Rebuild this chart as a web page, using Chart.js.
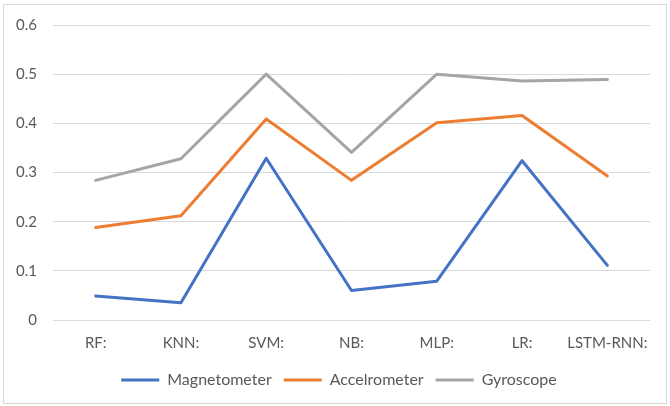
<!DOCTYPE html>
<html>
<head>
<meta charset="utf-8">
<script src="https://cdn.jsdelivr.net/npm/chart.js@4/dist/chart.umd.min.js"></script>
<style>
  body { margin: 0; background: #fff; }
  .wrap { position: relative; width: 670px; height: 406px; }
  .frame { position: absolute; left: 3px; top: 4px; width: 662px; height: 398px; border: 1px solid #d9d9d9; pointer-events: none; }
  canvas { position: absolute; left: 0; top: 0; }
</style>
</head>
<body>
<div class="wrap">
  <canvas id="chart" width="670" height="406"></canvas>
  <div class="frame"></div>
</div>
<script>
const models = ["RF:", "KNN:", "SVM:", "NB:", "MLP:", "LR:", "LSTM-RNN:"]
const magnetometer = [0.049, 0.035, 0.329, 0.060, 0.079, 0.324, 0.111]
const accelrometer = [0.188, 0.212, 0.409, 0.284, 0.401, 0.416, 0.293]
const gyroscope = [0.284, 0.328, 0.500, 0.341, 0.500, 0.486, 0.489]
const yTicks = [0, 0.1, 0.2, 0.3, 0.4, 0.5, 0.6]

const textColor = "#595959"
const font = { family: "Lato, 'Open Sans', sans-serif", size: 15 }
const legendFont = { family: "Lato, 'Open Sans', sans-serif", size: 16 }

const makeLine = (label, data, color) => ({
  label: label,
  data: data,
  borderColor: color,
  backgroundColor: color,
  borderWidth: 3,
  pointRadius: 0,
  borderCapStyle: "round",
  borderJoinStyle: "round",
  tension: 0
})

// nudge the legend a little to the right, like the original
const shiftLegend = {
  id: "shiftLegend",
  afterLayout: (chart) => { chart.legend.left += 28 }
}

new Chart(document.getElementById("chart"), {
  type: "line",
  data: {
    labels: models,
    datasets: [
      makeLine("Magnetometer", magnetometer, "#4472C4"),
      makeLine("Accelrometer", accelrometer, "#ED7D31"),
      makeLine("Gyroscope", gyroscope, "#A5A5A5")
    ]
  },
  plugins: [shiftLegend],
  options: {
    responsive: false,
    animation: false,
    layout: { padding: { left: 0, right: 20, top: 25, bottom: 8 } },
    plugins: {
      tooltip: { enabled: false },
      legend: {
        position: "bottom",
        labels: {
          usePointStyle: true,
          pointStyle: "line",
          pointStyleWidth: 38,
          boxHeight: 15,
          color: textColor,
          font: legendFont,
          padding: 12
        }
      }
    },
    scales: {
      x: {
        offset: true,
        grid: { display: false, drawTicks: false },
        border: { display: false },
        ticks: { color: textColor, font: font, padding: 14, maxRotation: 0, autoSkip: false },
        afterFit: (scale) => { scale.height = 40 }
      },
      y: {
        min: 0,
        max: 0.6,
        afterBuildTicks: (scale) => { scale.ticks = yTicks.map(v => ({ value: v })) },
        grid: { color: "#d9d9d9", lineWidth: 1, drawTicks: false },
        border: { display: false },
        ticks: { color: textColor, font: font, padding: 16, callback: (v) => String(v) },
        afterFit: (scale) => { scale.width = 53 }
      }
    }
  }
})
</script>
</body>
</html>
